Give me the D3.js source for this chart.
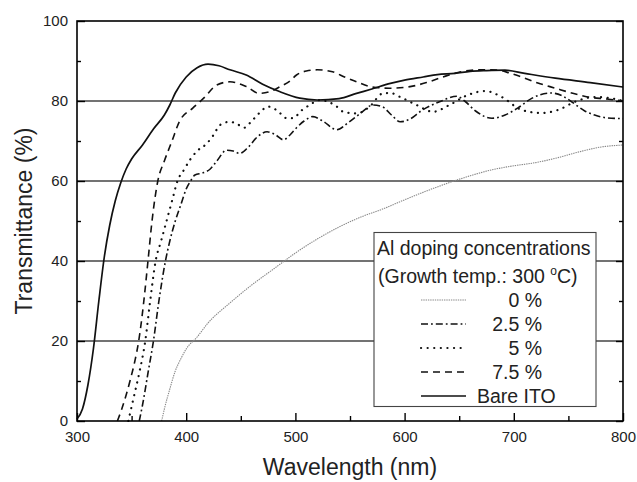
<!DOCTYPE html>
<html>
<head>
<meta charset="utf-8">
<script src="https://cdn.jsdelivr.net/npm/d3@7"></script>
<style>
  body { margin: 0; background: #fff; }
  svg { display: block; font-family: "Liberation Sans", Arial, sans-serif; }
</style>
</head>
<body>
<div id="chart"></div>
<script>
// Transmitancia vs longitud de onda
const wl0 = [377.5,380,385,390,395,400,410,420,440,460,480,500,520,540,560,580,600,620,640,660,680,700,720,740,760,780,800];
const t0  = [0,3,8,12.5,15.5,18,21,24.5,29.5,34,38,42,45.5,48.5,51,53,55.3,57.5,59.5,61.3,62.8,63.8,64.6,65.8,67.3,68.5,69];

const wl25 = [357,360,365,370,375,381,385,390,395,400,404,408,415,422,428,437,443,449,457,465,474,482,489,495,501,508,516,525,538,548,560,571,580,588,596,605,615,632,648,655,665,680,692,705,716,734,745,753,765,774,785,800];
const t25  = [0,4,12,20,30,40,45,50,54,58,60,61.5,62,63,65,67.7,67.5,66.9,68.5,71,72.3,71.5,70.3,71.5,73.3,75,76.1,75,72.8,74.5,77,79,78.5,76.5,74.8,75.5,77.5,79.8,81.2,80,77.5,75.7,76.5,78.5,80.6,82,81.2,79.8,77.5,76.5,75.8,75.6];

const wl5 = [347,352,357,362.5,367,372,377,382,387,392,398,404,410,419,425,431,440,447,453,460,467,475,483,492,498,505,513,522,530,537,544,556,568,580,587,596,611,626,641,658,674,689,707,725,741,756,774,786,800];
const t5  = [0,6,12,20,30,40,45,50,55,60,62.8,65.5,67.5,69.4,71.5,74,74.8,74.2,73.3,75,77,78.6,77.7,75.7,75.7,77.5,79,80.2,79.8,78.8,77.3,76.9,78.6,81.9,82,81,79,77.3,79,81.5,82.5,81,77.8,77,77.8,79.8,81,80.8,80];

const wl75 = [337,341,345,349,353,356.5,359.5,362,365,368.7,374,380,387,394,406,416,428,440,455,467,480,486,495,501,510,520,534,545,556,570,586,605,620,635,650,661,675,686,696,707,722,738,753,768,785,800];
const t75  = [0,3,6.5,10.5,15,20,26,32,40,50,60,65,70,75,78.2,80.7,84,84.8,83.6,81.9,82.7,83.6,85,86.5,87.5,87.8,87.3,86,84.8,83.5,83.2,83.6,84.6,86,87.2,87.7,87.8,87.7,87,86,84.5,83.2,82,81,80.5,80];

const wlIto = [300,305,310,315,320,325,330,335,340,345,350,360,370,380,385,390,400,410,420,430,440,455,470,486,504,520,540,556,570,587,600,617,630,646,660,675,692,710,738,770,800];
const tIto  = [0.5,3,9,18,30,41,49,55,59.5,63,65.5,69,73,76.5,79,82,86,88.3,89.2,88.8,87.8,86.5,84.2,82.3,80.7,80.25,80.6,81.9,83,84.4,85.2,86,86.6,86.9,87.4,87.6,87.7,86.9,85.7,84.6,83.5];

const seriesNames = ['0 %', '2.5 %', '5 %', '7.5 %', 'Bare ITO'];
const xTicks = [300,400,500,600,700,800];
const yTicks = [0,20,40,60,80,100];
const gridValues = [20,40,60,80];

const styles = [
  {color:'#888', width:1.1, dash:'1.4,0.9', cap:'butt'},
  {color:'#111', width:1.6, dash:'7,3,1.8,3', cap:'butt'},
  {color:'#111', width:2.2, dash:'0.1,6.5', cap:'round'},
  {color:'#111', width:1.6, dash:'7,5', cap:'butt'},
  {color:'#111', width:1.7, dash:null, cap:'butt'}
];

const series = [[wl0,t0],[wl25,t25],[wl5,t5],[wl75,t75],[wlIto,tIto]].map(([w,t], i) => ({
  name: seriesNames[i],
  pts: w.map((d, j) => ({w: d, t: t[j]})),
  style: styles[i]
}));

const W = 637, H = 482;
const margin = {top: 21, right: 14, bottom: 61, left: 77};
const iw = W - margin.left - margin.right;
const ih = H - margin.top - margin.bottom;

const svg = d3.select('#chart').append('svg').attr('width', W).attr('height', H);
const g = svg.append('g').attr('transform', `translate(${margin.left},${margin.top})`);

const x = d3.scaleLinear().domain([300, 800]).range([0, iw]);
const y = d3.scaleLinear().domain([0, 100]).range([ih, 0]);

// lineas de rejilla
g.selectAll('.grid').data(gridValues).enter().append('line')
  .attr('x1', 0).attr('x2', iw)
  .attr('y1', d => y(d)).attr('y2', d => y(d))
  .attr('stroke', '#444').attr('stroke-width', 1.3);

// ejes
function styleAxis(sel){
  sel.select('.domain').remove();
  sel.selectAll('line').attr('stroke', '#000').attr('stroke-width', 1.4);
  sel.selectAll('text').attr('font-size', '15px').attr('fill', '#222')
    .attr('font-family', '"Liberation Sans", Arial, sans-serif');
}

const minorX = d3.range(350, 800, 100);
const minorY = d3.range(10, 100, 20);

g.append('g').attr('transform', `translate(0,${ih})`)
  .call(d3.axisBottom(x).tickValues(xTicks).tickSize(-8).tickPadding(10))
  .call(styleAxis);
g.append('g').attr('transform', `translate(0,${ih})`)
  .call(d3.axisBottom(x).tickValues(minorX).tickSize(-5).tickFormat(''))
  .call(styleAxis);
g.append('g')
  .call(d3.axisLeft(y).tickValues(yTicks).tickSize(-8).tickPadding(9))
  .call(styleAxis);
g.append('g')
  .call(d3.axisLeft(y).tickValues(minorY).tickSize(-4).tickFormat(''))
  .call(styleAxis);
g.append('g').attr('transform', `translate(${iw},0)`)
  .call(d3.axisRight(y).tickValues(yTicks).tickSize(-7).tickFormat(''))
  .call(styleAxis);
g.append('g').attr('transform', `translate(${iw},0)`)
  .call(d3.axisRight(y).tickValues(minorY).tickSize(-4).tickFormat(''))
  .call(styleAxis);

// curvas
const line = d3.line().x(d => x(d.w)).y(d => y(d.t)).curve(d3.curveMonotoneX);
g.selectAll('.curve').data(series).enter().append('path')
  .attr('fill', 'none')
  .attr('stroke', d => d.style.color)
  .attr('stroke-width', d => d.style.width)
  .attr('stroke-dasharray', d => d.style.dash)
  .attr('stroke-linecap', d => d.style.cap)
  .attr('d', d => line(d.pts));

// marco
g.append('rect').attr('width', iw).attr('height', ih)
  .attr('fill', 'none').attr('stroke', '#000').attr('stroke-width', 1.6);

// titulos de ejes
svg.append('text')
  .attr('x', margin.left + iw / 2).attr('y', 475)
  .attr('text-anchor', 'middle').attr('font-size', '23px').attr('fill', '#222')
  .text('Wavelength (nm)');
svg.append('text')
  .attr('transform', `translate(32,${margin.top + ih / 2}) rotate(-90)`)
  .attr('text-anchor', 'middle').attr('font-size', '23px').attr('fill', '#222')
  .text('Transmittance (%)');

// leyenda
const leg = svg.append('g');
leg.append('rect').attr('x', 374).attr('y', 232.5).attr('width', 222).attr('height', 174)
  .attr('fill', '#fff').attr('stroke', '#444').attr('stroke-width', 1.1);
leg.append('text').attr('x', 377).attr('y', 255).attr('font-size', '19.5px').attr('fill', '#222')
  .text('Al doping concentrations');
const t2 = leg.append('text').attr('x', 378).attr('y', 283).attr('font-size', '19.5px').attr('fill', '#222');
t2.append('tspan').text('(Growth temp.: 300 ');
t2.append('tspan').attr('dy', -8).attr('font-size', '12px').text('o');
t2.append('tspan').attr('dy', 8).text('C)');

const rowY = d3.scaleLinear().domain([0, 4]).range([307, 403]);
const rows = leg.selectAll('.row').data(series).enter().append('g');
rows.append('line')
  .attr('x1', 421).attr('x2', 466)
  .attr('y1', (d, i) => rowY(i) - 7).attr('y2', (d, i) => rowY(i) - 7)
  .attr('stroke', d => d.style.color)
  .attr('stroke-width', d => d.style.width)
  .attr('stroke-dasharray', d => d.style.dash)
  .attr('stroke-linecap', d => d.style.cap);
rows.append('text')
  .attr('x', (d, i) => i === 4 ? 477 : 542)
  .attr('y', (d, i) => rowY(i))
  .attr('text-anchor', (d, i) => i === 4 ? 'start' : 'end')
  .attr('font-size', '19.5px').attr('fill', '#222')
  .text(d => d.name);
</script>
</body>
</html>
